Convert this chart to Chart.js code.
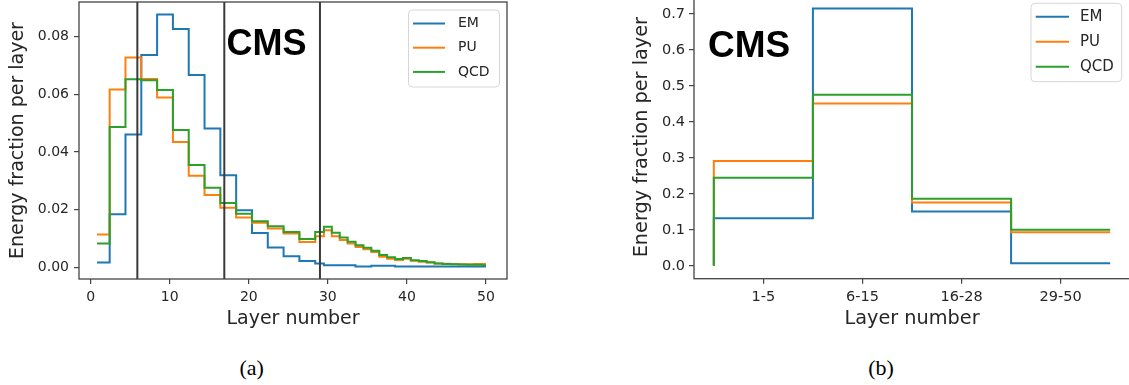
<!DOCTYPE html>
<html>
<head>
<meta charset="utf-8">
<script src="https://cdn.jsdelivr.net/npm/chart.js@4.4.1/dist/chart.umd.min.js"></script>
<style>
  html, body { margin: 0; padding: 0; background: #fff; width: 1129px; height: 385px; overflow: hidden; position: relative; }
  #wrapA { position: absolute; left: 0; top: 0; width: 560px; height: 340px; }
  #wrapB { position: absolute; left: 600px; top: -20px; width: 540px; height: 360px; }
  .caption { position: absolute; font-family: "Liberation Serif", "Times New Roman", serif; font-size: 22px; color: #000;
             transform: translate(-50%, -50%); white-space: nowrap; }
</style>
</head>
<body>
<div id="wrapA"><canvas id="chartA" width="560" height="340"></canvas></div>
<div id="wrapB"><canvas id="chartB" width="540" height="360"></canvas></div>
<div class="caption" style="left:251.7px; top:367.5px;">(a)</div>
<div class="caption" style="left:881px; top:367.5px;">(b)</div>
<script>
// ---- shared series definitions ----
const seriesNames = ['EM', 'PU', 'QCD'];
const seriesColors = ['#1f77b4', '#ff7f0e', '#2ca02c'];

// ---- (a) energy fraction per layer ----
// left edge of every step; the last entry closes the final step
const layerEdges = [0.8, 2.4, 4.4, 6.4, 8.4, 10.4, 12.4, 14.4, 16.4, 18.4, 20.4, 22.4, 24.4, 26.4, 28.4,
  29.5, 30.5, 31.5, 32.5, 33.5, 34.5, 35.5, 36.5, 37.5, 38.5, 39.5, 40.5, 41.5, 42.5, 43.5,
  44.5, 45.5, 46.5, 47.5, 48.5, 49.5, 50];
const emPerLayer = [0.0017, 0.0184, 0.0461, 0.0736, 0.0877, 0.0826, 0.0667, 0.0482, 0.0320, 0.0198,
  0.0119, 0.0069, 0.0039, 0.0022, 0.0014, 0.0008, 0.0008, 0.0008, 0.0008, 0.0003,
  0.0003, 0.0006, 0.0006, 0.0006, 0.0003, 0.0003, 0.0003, 0.0003, 0.0003, 0.0003,
  0.0003, 0.0003, 0.0003, 0.0003, 0.0003, 0.0003];
const puPerLayer = [0.0114, 0.0617, 0.0728, 0.0653, 0.0589, 0.0435, 0.0318, 0.0251, 0.0207, 0.0173,
  0.0155, 0.0135, 0.0118, 0.0088, 0.0108, 0.0129, 0.0108, 0.0095, 0.0083, 0.0071,
  0.0063, 0.0054, 0.0037, 0.0030, 0.0026, 0.0030, 0.0023, 0.0020, 0.0017, 0.0014,
  0.0013, 0.0012, 0.0011, 0.0011, 0.0012, 0.0012];
const qcdPerLayer = [0.0083, 0.0487, 0.0652, 0.0649, 0.0615, 0.0476, 0.0355, 0.0276, 0.0223, 0.0186,
  0.0160, 0.0143, 0.0123, 0.0099, 0.0123, 0.0141, 0.0120, 0.0104, 0.0089, 0.0077,
  0.0068, 0.0058, 0.0043, 0.0035, 0.0029, 0.0033, 0.0025, 0.0022, 0.0018, 0.0014,
  0.0012, 0.0011, 0.0010, 0.0009, 0.0009, 0.0008];
const sectionBoundaries = [5.9, 16.9, 29.0];
const layerTicks = [0, 10, 20, 30, 40, 50];
const fractionTicksA = [0, 0.02, 0.04, 0.06, 0.08];

// ---- (b) energy fraction per layer group ----
const layerGroups = ['1-5', '6-15', '16-28', '29-50'];
const emPerGroup = [0.132, 0.715, 0.151, 0.0074];
const puPerGroup = [0.291, 0.451, 0.176, 0.0935];
const qcdPerGroup = [0.245, 0.475, 0.186, 0.100];
const groupStepStart = 0;
const fractionTicksB = [0, 0.1, 0.2, 0.3, 0.4, 0.5, 0.6, 0.7];

// ---- styling ----
const textColor = '#262626';
const axisColor = '#444444';
Chart.defaults.font.family = '"DejaVu Sans", sans-serif';
Chart.defaults.color = textColor;

const frameBox = {
  id: 'frameBox',
  afterDatasetsDraw(chart, args, opts) {
    const { ctx, chartArea: a } = chart;
    ctx.save();
    ctx.strokeStyle = opts.color;
    ctx.lineWidth = opts.width;
    ctx.strokeRect(a.left, a.top, a.right - a.left, a.bottom - a.top);
    ctx.restore();
  }
};

const panelText = {
  id: 'panelText',
  afterDraw(chart, args, opts) {
    const ctx = chart.ctx;
    ctx.save();
    ctx.font = opts.font;
    ctx.fillStyle = opts.color;
    ctx.textAlign = 'left';
    ctx.textBaseline = 'alphabetic';
    ctx.fillText(opts.text, opts.x, opts.y);
    ctx.restore();
  }
};

const boxLegend = {
  id: 'boxLegend',
  afterDraw(chart, args, opts) {
    const ctx = chart.ctx;
    ctx.save();
    ctx.beginPath();
    ctx.roundRect(opts.x, opts.y, opts.w, opts.h, opts.r);
    ctx.fillStyle = 'rgba(255,255,255,0.8)';
    ctx.fill();
    ctx.strokeStyle = opts.borderColor;
    ctx.lineWidth = 1;
    ctx.stroke();
    const items = chart.data.datasets.filter(d => seriesNames.includes(d.label));
    items.forEach((d, i) => {
      const ry = opts.firstRow + i * opts.rowGap;
      ctx.beginPath();
      ctx.moveTo(opts.lineX, ry);
      ctx.lineTo(opts.lineX + opts.lineLen, ry);
      ctx.strokeStyle = d.borderColor;
      ctx.lineWidth = d.borderWidth;
      ctx.stroke();
      ctx.fillStyle = textColor;
      ctx.font = opts.font;
      ctx.textAlign = 'left';
      ctx.textBaseline = 'middle';
      ctx.fillText(d.label, opts.textX, ry);
    });
    ctx.restore();
  }
};

// horizontal run from each edge to the next, then a jump to the next value
function stepPoints(edges, values) {
  const pts = values.map((v, i) => ({ x: edges[i], y: v }));
  pts.push({ x: edges[edges.length - 1], y: values[values.length - 1] });
  return pts;
}

// rise from the baseline at the left edge, one flat run per group
function groupPoints(values) {
  const pts = [{ x: -0.5, y: groupStepStart }];
  values.forEach((v, i) => pts.push({ x: i + 0.5, y: v }));
  return pts;
}

function axisCommon(tickSize, tickPad) {
  return {
    grid: { drawOnChartArea: false, drawTicks: true, tickLength: 5, color: axisColor, lineWidth: 1.2 },
    border: { display: false },
    ticks: { color: textColor, font: { size: tickSize }, padding: tickPad, maxRotation: 0, autoSkip: false }
  };
}

// ---------- chart (a) ----------
const yRangeA = [-0.0040, 0.0920];
const perLayer = [emPerLayer, puPerLayer, qcdPerLayer];

const chartA = new Chart(document.getElementById('chartA'), {
  type: 'line',
  data: {
    datasets: [
      ...seriesNames.map((name, k) => ({
        label: name,
        data: stepPoints(layerEdges, perLayer[k]),
        borderColor: seriesColors[k],
        borderWidth: 2,
        stepped: 'before',
        pointRadius: 0,
        fill: false,
        order: 3 - k
      })),
      ...sectionBoundaries.map(b => ({
        label: 'boundary',
        data: [{ x: b, y: yRangeA[0] }, { x: b, y: yRangeA[1] }],
        borderColor: '#3a3a3a',
        borderWidth: 2,
        pointRadius: 0,
        fill: false,
        order: 0
      }))
    ]
  },
  options: {
    responsive: false,
    animation: false,
    devicePixelRatio: 1,
    events: [],
    layout: { padding: { left: 0, top: 2, right: 53, bottom: 0 } },
    plugins: {
      legend: { display: false },
      tooltip: { enabled: false },
      frameBox: { color: axisColor, width: 1.3 },
      panelText: { text: 'CMS', x: 226.5, y: 55, font: 'bold 36px "Liberation Sans", Arial, sans-serif', color: '#000' },
      boxLegend: { x: 408.5, y: 10, w: 91, h: 77, r: 4, borderColor: '#d6d6d6',
                   lineX: 413, lineLen: 32, textX: 458, firstRow: 23.5, rowGap: 24.2,
                   font: '14px "DejaVu Sans", sans-serif' }
    },
    scales: {
      x: {
        type: 'linear', min: -1.48, max: 52.66,
        ...axisCommon(14, 5),
        afterBuildTicks: s => { s.ticks = layerTicks.map(v => ({ value: v })); },
        afterFit: s => { s.height = 61; s.paddingLeft = 0; s.paddingRight = 0; },
        title: { display: true, text: 'Layer number', color: textColor, font: { size: 19 }, padding: { top: 0, bottom: 9.6 } }
      },
      y: {
        type: 'linear', min: yRangeA[0], max: yRangeA[1],
        ...axisCommon(14, 5),
        afterBuildTicks: s => { s.ticks = fractionTicksA.map(v => ({ value: v })); },
        afterFit: s => { s.width = 79; s.paddingTop = 0; s.paddingBottom = 0; },
        title: { display: true, text: 'Energy fraction per layer', color: textColor, font: { size: 19 }, padding: { top: 7.1, bottom: 0 } }
      }
    }
  },
  plugins: [frameBox, panelText, boxLegend]
});
chartA.options.scales.y.ticks.callback = v => v.toFixed(2);
chartA.update('none');

// ---------- chart (b) ----------
const perGroup = [emPerGroup, puPerGroup, qcdPerGroup];

const chartB = new Chart(document.getElementById('chartB'), {
  type: 'line',
  data: {
    datasets: seriesNames.map((name, k) => ({
      label: name,
      data: groupPoints(perGroup[k]),
      borderColor: seriesColors[k],
      borderWidth: 2,
      stepped: 'after',
      pointRadius: 0,
      fill: false,
      order: 3 - k
    }))
  },
  options: {
    responsive: false,
    animation: false,
    devicePixelRatio: 1,
    events: [],
    layout: { padding: { left: 0, top: 15.6, right: 10, bottom: 0 } },
    plugins: {
      legend: { display: false },
      tooltip: { enabled: false },
      frameBox: { color: axisColor, width: 1.3 },
      panelText: { text: 'CMS', x: 108, y: 76.7, font: 'bold 37px "Liberation Sans", Arial, sans-serif', color: '#000' },
      boxLegend: { x: 431, y: 23.3, w: 90.7, h: 78.4, r: 4, borderColor: '#d6d6d6',
                   lineX: 435.7, lineLen: 33.3, textX: 480, firstRow: 36.7, rowGap: 25,
                   font: '15px "DejaVu Sans", sans-serif' }
    },
    scales: {
      x: {
        type: 'linear', min: -0.7, max: 3.7,
        ...axisCommon(14.5, 5),
        afterBuildTicks: s => { s.ticks = layerGroups.map((g, i) => ({ value: i })); },
        afterFit: s => { s.height = 61.3; s.paddingLeft = 0; s.paddingRight = 0; },
        title: { display: true, text: 'Layer number', color: textColor, font: { size: 19.3 }, padding: { top: 0, bottom: 9.4 } }
      },
      y: {
        type: 'linear', min: -0.0358, max: 0.7508,
        ...axisCommon(14.5, 4),
        afterBuildTicks: s => { s.ticks = fractionTicksB.map(v => ({ value: v })); },
        afterFit: s => { s.width = 94; s.paddingTop = 0; s.paddingBottom = 0; },
        title: { display: true, text: 'Energy fraction per layer', color: textColor, font: { size: 19.3 }, padding: { top: 30.4, bottom: 0 } }
      }
    }
  },
  plugins: [frameBox, panelText, boxLegend]
});
chartB.options.scales.x.ticks.callback = (v, i) => layerGroups[i];
chartB.options.scales.y.ticks.callback = v => v.toFixed(1);
chartB.update('none');
</script>
</body>
</html>
